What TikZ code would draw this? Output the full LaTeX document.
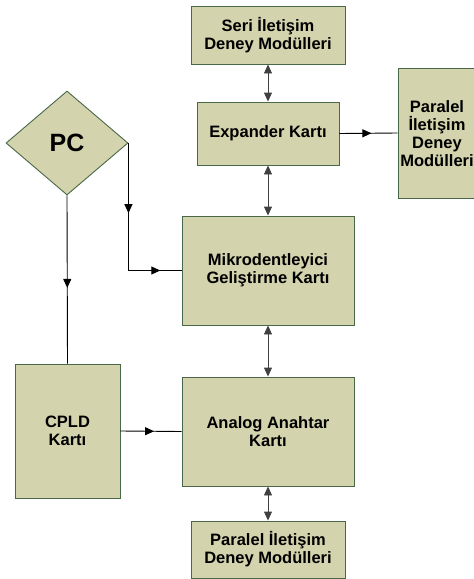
\documentclass[tikz,border=0pt]{standalone}
\usepackage{fontspec}
\setmainfont{Liberation Sans}
\usetikzlibrary{arrows.meta,shapes.geometric,decorations.markings}

\definecolor{kutudolgu}{RGB}{211,211,173}
\definecolor{kutucizgi}{RGB}{72,104,72}

\tikzset{
	kutu/.style={rectangle,draw=kutucizgi,line width=0.9pt,fill=kutudolgu,align=center,inner sep=0pt,
		font=\fontsize{16.5}{18}\selectfont\bfseries},
	pckutu/.style={diamond,draw=kutucizgi,line width=0.9pt,fill=kutudolgu,inner sep=0pt,
		font=\fontsize{25}{28}\selectfont\bfseries},
	ciftok/.style={<->,line width=0.9pt,draw=black!75},
	ortaok/.style={line width=0.9pt,postaction={decorate},
		decoration={markings,mark=at position #1 with {\arrow{>}}}},
	ortaok/.default=0.5
}

\begin{document}
\begin{tikzpicture}[line cap=butt,line join=miter,>={Triangle[length=9pt,width=8pt]},x=1pt,y=-1pt]
		\useasboundingbox (0,0) rectangle (474,579);
		\clip (0,0) rectangle (474,579);
		% kutular
		\node[kutu,minimum width=154,minimum height=58] (seri) at (268,35) {Seri İletişim\\Deney Modülleri};
		\node[kutu,minimum width=142,minimum height=63] (expander) at (268,133.5) {Expander Kartı};
		\node[kutu,minimum width=86,minimum height=130] (paralelsag) at (441,133) {};
		\node[font=\fontsize{16.5}{18}\selectfont\bfseries,align=center,inner sep=0pt] (paralelyazi) at (437,134) {Paralel\\İletişim\\Deney\\Modülleri};
		\node[kutu,minimum width=172,minimum height=109] (mikro) at (268,270.5) {Mikrodentleyici\\Geliştirme Kartı};
		\node[pckutu,minimum width=122,minimum height=104] (pc) at (67,143) {PC};
		\node[kutu,minimum width=105,minimum height=134] (cpld) at (67.5,431) {CPLD\\Kartı};
		\node[kutu,minimum width=172,minimum height=109] (analog) at (268,431.5) {Analog Anahtar\\Kartı};
		\node[kutu,minimum width=154,minimum height=57] (paralelalt) at (268,549.5) {Paralel İletişim\\Deney Modülleri};
		% baglantilar
		\coordinate (kose) at (pc.east |- mikro.west);
		\draw[ciftok] (seri.south) -- (expander.north);
		\draw[ciftok] (expander.south) -- (mikro.north);
		\draw[ciftok] (mikro.south) -- (analog.north);
		\draw[ciftok] (analog.south) -- (paralelalt.north);
		\draw[ortaok=0.55] (expander.east) -- (paralelsag.west);
		\draw[ortaok=0.55] (pc.east) -- (kose);
		\draw[ortaok=0.6] (kose) -- (mikro.west);
		\draw[ortaok=0.55] (pc.south) -- (cpld.north);
		\draw[ortaok=0.55] (cpld.east) -- (analog.west);
	\end{tikzpicture}
\end{document}
